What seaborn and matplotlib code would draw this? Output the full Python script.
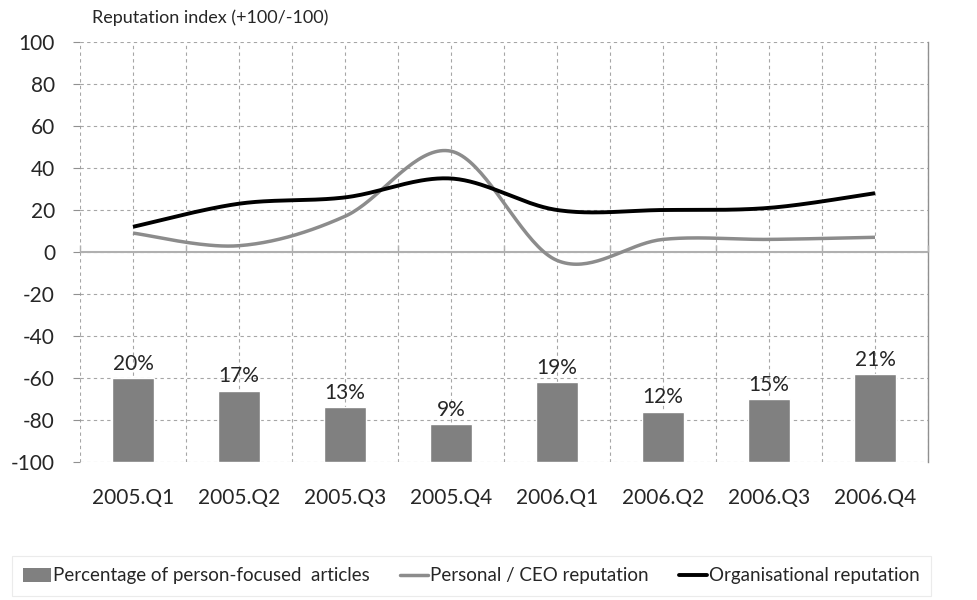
import numpy as np
import matplotlib
matplotlib.use("Agg")
import matplotlib.pyplot as plt
from matplotlib.patches import Patch
from matplotlib.lines import Line2D
import seaborn as sns

# data
quarters = ["2005.Q1", "2005.Q2", "2005.Q3", "2005.Q4",
            "2006.Q1", "2006.Q2", "2006.Q3", "2006.Q4"]
person_pct = [20, 17, 13, 9, 19, 12, 15, 21]          # % of person-focused articles
personal_rep = [9, 3, 17, 48, -4, 6, 6, 7]            # Personal / CEO reputation
organisational_rep = [12, 23, 26, 35, 20, 20, 21, 28]  # Organisational reputation

sns.set_style("white")
plt.rcParams["font.family"] = ["Lato", "DejaVu Sans"]
plt.rcParams["axes.unicode_minus"] = False

BAR_C = "#808080"
PERS_C = "#8c8c8c"
ORG_C = "#000000"
GRID_C = "#a6a6a6"
AXIS_C = "#b0b0b0"


def excel_smooth(y, n=40):
    # bezier smoothing like the spreadsheet "smoothed line" option
    y = np.asarray(y, dtype=float)
    x = np.arange(len(y), dtype=float)
    pts = np.column_stack([x, y])
    ext = np.vstack([pts[0], pts, pts[-1]])
    out = []
    t = np.linspace(0, 1, n)[:, None]
    for i in range(len(pts) - 1):
        p0, p3 = ext[i + 1], ext[i + 2]
        p1 = p0 + (ext[i + 2] - ext[i]) / 6
        p2 = p3 - (ext[i + 3] - ext[i + 1]) / 6
        seg = ((1 - t) ** 3) * p0 + 3 * ((1 - t) ** 2) * t * p1 \
            + 3 * (1 - t) * t ** 2 * p2 + t ** 3 * p3
        out.append(seg if i == 0 else seg[1:])
    out = np.vstack(out)
    return out[:, 0], out[:, 1]


fig = plt.figure(figsize=(9.78, 6), dpi=100)
ax = fig.add_axes([80 / 978, 1 - 462 / 600, 848 / 978, 420 / 600])

# bars live on a 0-100 % scale (secondary axis in the original)
sns.barplot(x=quarters, y=person_pct, color=BAR_C, saturation=1,
            width=0.4, ax=ax, zorder=2)
ax.set_ylim(0, 100)
ax.set_xlim(-0.5, len(quarters) - 0.5)
ax.set_yticks(np.arange(0, 101, 10))
ax.set_xticks(np.arange(-0.5, len(quarters), 1.0), minor=True)
ax.set_xticks(range(len(quarters)))
ax.set_xticklabels(quarters, fontsize=15)
ax.set_xlabel("")
ax.set_ylabel("")
ax.tick_params(axis="x", which="both", length=0, pad=19)
ax.grid(True, which="both", axis="x", color=GRID_C, linestyle=(0, (3, 3)), linewidth=0.8)
ax.grid(True, which="major", axis="y", color=GRID_C, linestyle=(0, (3, 3)), linewidth=0.8)
ax.set_axisbelow(True)
for c in ax.containers:
    ax.bar_label(c, labels=[f"{v}%" for v in person_pct], padding=3, fontsize=15)

for s in ["top", "left", "bottom"]:
    ax.spines[s].set_visible(False)
ax.spines["right"].set_color("#909090")
ax.spines["right"].set_linewidth(1.0)
ax.yaxis.tick_right()
ax.tick_params(axis="y", which="major", direction="out", length=5,
               color="#909090", labelright=False, labelleft=False)

# reputation index axis
ax2 = ax.twinx()
ax2.set_ylim(-100, 100)
ax2.yaxis.tick_left()
ax2.yaxis.set_label_position("left")
ax2.set_yticks(np.arange(-100, 101, 20))
ax2.tick_params(axis="y", length=0, pad=18, labelsize=15)
for s in ax2.spines.values():
    s.set_visible(False)

# category axis crossing at zero
ax2.axhline(0, color=AXIS_C, linewidth=1.5, zorder=2.5)
zero_ax = ax2.secondary_xaxis(0.5)
zero_ax.set_xticks(np.arange(-0.5, len(quarters), 1.0))
zero_ax.set_xticklabels([])
zero_ax.tick_params(axis="x", direction="out", length=5, width=1.0, color=AXIS_C)
for s in zero_ax.spines.values():
    s.set_visible(False)

xs, ys = excel_smooth(personal_rep)
ax2.plot(xs, ys, color=PERS_C, linewidth=2.5, solid_capstyle="butt", zorder=3)
xs, ys = excel_smooth(organisational_rep)
ax2.plot(xs, ys, color=ORG_C, linewidth=2.8, solid_capstyle="butt", zorder=4)

fig.text(92 / 978, 1 - 18 / 600, "Reputation index (+100/-100)", fontsize=13,
         ha="left", va="center")

handles = [Patch(facecolor=BAR_C, edgecolor="none"),
           Line2D([], [], color=PERS_C, linewidth=2.5),
           Line2D([], [], color=ORG_C, linewidth=2.8)]
labels = ["Percentage of person-focused  articles", "Personal / CEO reputation",
          "Organisational reputation"]
leg = fig.legend(handles, labels, loc="center left", bbox_to_anchor=(12 / 978, 1 - 576 / 600),
                 ncol=3, frameon=True, fontsize=13.5, handlelength=1.5, handletextpad=0.1,
                 columnspacing=1.6, borderpad=0.6, fancybox=False, borderaxespad=0)
leg.get_frame().set_edgecolor("#e6e6e6")
leg.get_frame().set_linewidth(0.8)

fig.savefig("out.png", dpi=100)
